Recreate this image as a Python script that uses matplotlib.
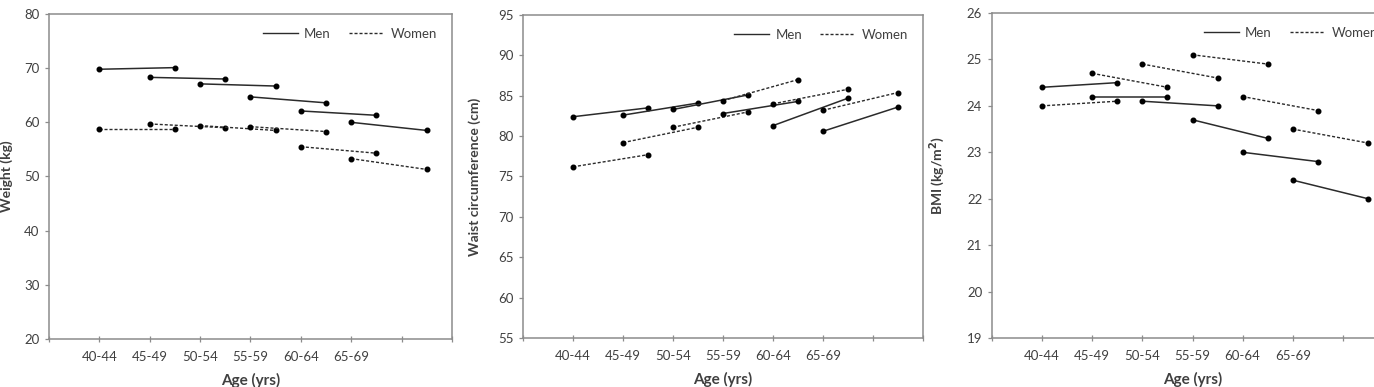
import numpy as np
import matplotlib as mpl
import matplotlib.pyplot as plt

AGE_GROUPS = ["40-44", "45-49", "50-54", "55-59", "60-64", "65-69"]
X_START = [1, 2, 3, 4, 5, 6]
FOLLOW_UP = 1.5

# weight (kg): baseline / follow-up per age group
WEIGHT_MEN_BASE = [69.8, 68.3, 67.1, 64.7, 62.1, 60.0]
WEIGHT_MEN_FU = [70.1, 68.0, 66.7, 63.6, 61.3, 58.5]
WEIGHT_WOMEN_BASE = [58.8, 59.7, 59.4, 59.2, 55.5, 53.3]
WEIGHT_WOMEN_FU = [58.8, 59.0, 58.5, 58.3, 54.3, 51.3]

# waist circumference (cm)
WAIST_MEN_BASE = [82.4, 82.6, 83.3, 82.8, 81.3, 80.6]
WAIST_MEN_FU = [83.5, 84.1, 85.1, 84.3, 84.7, 83.6]
WAIST_WOMEN_BASE = [76.2, 79.2, 81.1, 84.4, 84.0, 83.2]
WAIST_WOMEN_FU = [77.7, 81.1, 83.0, 87.0, 85.8, 85.4]

# BMI (kg/m2)
BMI_MEN_BASE = [24.4, 24.2, 24.1, 23.7, 23.0, 22.4]
BMI_MEN_FU = [24.5, 24.2, 24.0, 23.3, 22.8, 22.0]
BMI_WOMEN_BASE = [24.0, 24.7, 24.9, 25.1, 24.2, 23.5]
BMI_WOMEN_FU = [24.1, 24.4, 24.6, 24.9, 23.9, 23.2]

TEXT = "#404040"
SPINE = "#8c8c8c"
LINE = "#2b2b2b"
DASH = (0, (2.2, 1.4))

mpl.rcParams.update({
    "font.family": ["Lato", "DejaVu Sans"],
    "font.size": 9,
    "text.color": TEXT,
    "axes.labelcolor": TEXT,
    "xtick.color": SPINE,
    "ytick.color": SPINE,
    "xtick.labelcolor": TEXT,
    "ytick.labelcolor": TEXT,
})

W, H = 1374, 387
fig = plt.figure(figsize=(W / 100, H / 100), dpi=100)


def px_axes(left, right, top, bottom):
    return fig.add_axes([left / W, 1 - bottom / H, (right - left) / W, (bottom - top) / H])


def draw_panel(ax, men_b, men_f, wom_b, wom_f, ylim, ystep, ylabel, ylabelpad):
    for i, x0 in enumerate(X_START):
        xs = [x0, x0 + FOLLOW_UP]
        ax.plot(xs, [men_b[i], men_f[i]], color=LINE, lw=1.1, ls="-",
                marker="o", ms=3.3, mfc="black", mec="black", zorder=3)
        ax.plot(xs, [wom_b[i], wom_f[i]], color=LINE, lw=1.0, ls=DASH,
                marker="o", ms=3.3, mfc="black", mec="black", zorder=3)
    ax.set_xlim(0, 8)
    ax.set_ylim(*ylim)
    ax.set_yticks(np.arange(ylim[0], ylim[1] + 0.01, ystep))
    ax.set_xticks(range(0, 9))
    ax.set_xticklabels([""] + AGE_GROUPS + ["", ""])
    ax.tick_params(axis="x", direction="inout", length=5, width=0.9, labelsize=9.5, pad=6)
    ax.tick_params(axis="y", direction="out", length=3, width=0.9, labelsize=9.5, pad=4)
    for sp in ax.spines.values():
        sp.set_color(SPINE)
        sp.set_linewidth(1.1)
    ax.set_xlabel("Age (yrs)", fontsize=11, fontweight="bold", labelpad=7)
    ax.set_ylabel(ylabel, fontsize=10, fontweight="bold", labelpad=ylabelpad)
    leg_handles = [mpl.lines.Line2D([], [], color=LINE, lw=1.0, ls="-"),
                   mpl.lines.Line2D([], [], color=LINE, lw=1.0, ls=DASH)]
    ax.legend(leg_handles, ["Men", "Women"], loc="upper right", ncol=2, frameon=False,
              fontsize=9.5, handlelength=2.6, columnspacing=1.4, handletextpad=0.5,
              bbox_to_anchor=(0.985, 0.985), borderaxespad=0.3)


ax1 = px_axes(49, 452, 14, 339)
draw_panel(ax1, WEIGHT_MEN_BASE, WEIGHT_MEN_FU, WEIGHT_WOMEN_BASE, WEIGHT_WOMEN_FU,
           (20, 80), 10, "Weight (kg)", 8)

ax2 = px_axes(523, 923, 15, 338)
draw_panel(ax2, WAIST_MEN_BASE, WAIST_MEN_FU, WAIST_WOMEN_BASE, WAIST_WOMEN_FU,
           (55, 95), 5, "Waist circumference (cm)", 12)

ax3 = px_axes(992, 1393, 13, 338)
draw_panel(ax3, BMI_MEN_BASE, BMI_MEN_FU, BMI_WOMEN_BASE, BMI_WOMEN_FU,
           (19, 26), 1, r"BMI (kg/m$^\mathbf{2}$)", 14)

fig.savefig("out.png", dpi=100)
